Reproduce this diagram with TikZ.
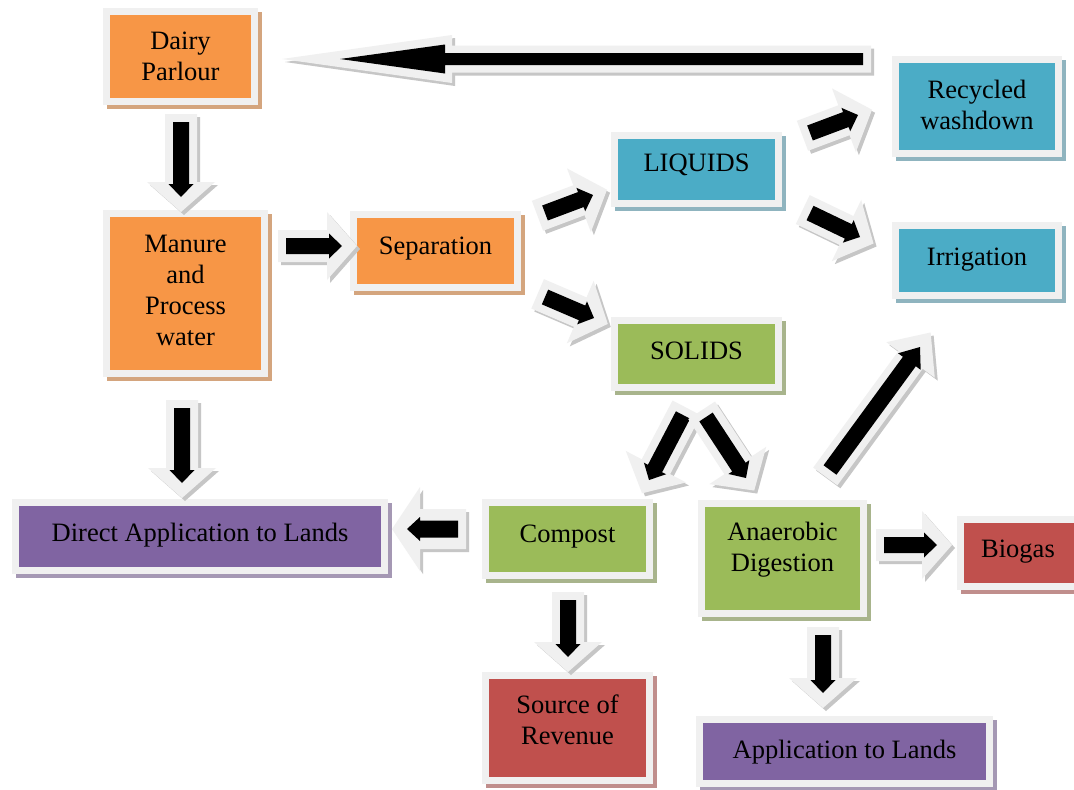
\documentclass[tikz,border=0pt]{standalone}
\usepackage{fontspec}
\setmainfont{Liberation Serif}
\usetikzlibrary{calc}

\definecolor{orangeF}{HTML}{F79646}
\definecolor{blueF}{HTML}{4BACC6}
\definecolor{greenF}{HTML}{9BBB59}
\definecolor{purpleF}{HTML}{8064A2}
\definecolor{redF}{HTML}{C0504D}
\definecolor{orangeS}{HTML}{D4A57E}
\definecolor{blueS}{HTML}{8FB4BF}
\definecolor{greenS}{HTML}{A8B48C}
\definecolor{purpleS}{HTML}{A598B4}
\definecolor{redS}{HTML}{C08E8C}
\definecolor{rim}{HTML}{F0F0F0}
\definecolor{arrowshade}{HTML}{C6C6C6}

\tikzset{
  panel/.style 2 args={draw=rim, line width=7pt, fill=#1, inner sep=0pt,
    preaction={draw=#2, fill=#2, line width=7pt,
      transform canvas={shift={(4pt,-4pt)}}}},
  label text/.style={font=\fontsize{26.5}{31}\selectfont, inner sep=0pt, align=center, text=black},
}

% one block-arrow outline: tail, tip, shaft half width, head half width, head length, fill
\newcommand\arrowpoly[6]{%
  \path ($(#2)!#5!(#1)$) coordinate (aC);
  \fill[#6] ($(#1)!#3!90:(#2)$) -- ($(aC)!#3!90:(#2)$) -- ($(aC)!#4!90:(#2)$)
    -- (#2) -- ($(aC)!#4!-90:(#2)$) -- ($(aC)!#3!-90:(#2)$)
    -- ($(#1)!#3!-90:(#2)$) -- cycle;
}
% black arrow on a light rim with a grey drop shadow
% #1 tail, #2 tip, #3-#5 black shaft/head/length, #6-#8 rim shaft/head/length, #9 rim overshoot at the tip
\newcommand\blockarrow[9]{%
  \path ($(#1)!-8pt!(#2)$) coordinate (oT) ($(#2)!-#9!(#1)$) coordinate (oH);
  \path ($(oT)+(3,3)$) coordinate (sT) ($(oH)+(3,3)$) coordinate (sH);
  \arrowpoly{sT}{sH}{#6}{#7}{#8}{arrowshade}
  \arrowpoly{oT}{oH}{#6}{#7}{#8}{rim}
  \arrowpoly{#1}{#2}{#3}{#4}{#5}{black}
}
\newcommand\stdarrow[2]{\blockarrow{#1}{#2}{8pt}{12.5pt}{13pt}{16pt}{34pt}{30pt}{15pt}}

\begin{document}
\begin{tikzpicture}[x=1pt, y=-1pt]
  \clip (0,0) rectangle (1074,790);
  \fill[white] (0,0) rectangle (1074,790);

  % ---- boxes ----
  \node[panel={orangeF}{orangeS}, minimum width=148pt, minimum height=90pt] (dairy) at (180.5,56.5) {};
  \node[panel={orangeF}{orangeS}, minimum width=158pt, minimum height=160pt] (manure) at (185.5,293.5) {};
  \node[panel={orangeF}{orangeS}, minimum width=164pt, minimum height=73pt] (sep) at (435.5,251) {};
  \node[panel={blueF}{blueS}, minimum width=164pt, minimum height=68pt] (liq) at (696.5,169.5) {};
  \node[panel={blueF}{blueS}, minimum width=163pt, minimum height=94pt] (recyc) at (977,106.5) {};
  \node[panel={blueF}{blueS}, minimum width=163pt, minimum height=70pt] (irrig) at (977,260.5) {};
  \node[panel={greenF}{greenS}, minimum width=164pt, minimum height=67pt] (solids) at (696.5,354) {};
  \node[panel={purpleF}{purpleS}, minimum width=369pt, minimum height=68pt] (direct) at (200,536.5) {};
  \node[panel={greenF}{greenS}, minimum width=164pt, minimum height=73pt] (compost) at (567.5,539) {};
  \node[panel={greenF}{greenS}, minimum width=162pt, minimum height=110pt] (anaer) at (782.5,558.5) {};
  \node[panel={redF}{redS}, minimum width=160pt, minimum height=67pt] (biogas) at (1040,553) {};
  \node[panel={redF}{redS}, minimum width=164pt, minimum height=105pt] (source) at (567.5,728) {};
  \node[panel={purpleF}{purpleS}, minimum width=290pt, minimum height=64pt] (app) at (844.5,751.5) {};

  % ---- texts ----
  \node[label text] (dairy-t) at (180.5,56.5) {Dairy\\Parlour};
  \node[label text] (manure-t) at (185.5,290.5) {Manure\\and\\Process\\water};
  \node[label text, anchor=base] (sep-t) at (435.5,254) {Separation};
  \node[label text, anchor=base] (liq-t) at (696.5,171) {LIQUIDS};
  \node[label text] (recyc-t) at (977,104.5) {Recycled\\washdown};
  \node[label text, anchor=base] (irrig-t) at (977,265) {Irrigation};
  \node[label text, anchor=base] (solids-t) at (696.5,359) {SOLIDS};
  \node[label text, anchor=base] (direct-t) at (200,541) {Direct Application to Lands};
  \node[label text, anchor=base] (compost-t) at (567.5,542) {Compost};
  \node[label text] (anaer-t) at (782.5,550) {Anaerobic\\Digestion};
  \node[label text, anchor=base] (biogas-t) at (1018,557) {Biogas};
  \node[label text] (source-t) at (567.5,720) {Source of\\Revenue};
  \node[label text, anchor=base] (app-t) at (844.5,758) {Application to Lands};

  % ---- arrow end points ----
  \coordinate (ret-a) at (863,59);   \coordinate (ret-b) at (340,59);
  \coordinate (dm-a) at (181,122);   \coordinate (dm-b) at (181,197);
  \coordinate (ms-a) at (286,246);   \coordinate (ms-b) at (342,246);
  \coordinate (sl-a) at (545,213);   \coordinate (sl-b) at (593,195);
  \coordinate (ss-a) at (545,297);   \coordinate (ss-b) at (594,318);
  \coordinate (lr-a) at (810,133);   \coordinate (lr-b) at (858,115);
  \coordinate (li-a) at (810,213);   \coordinate (li-b) at (860,237);
  \coordinate (sc-a) at (683,415);   \coordinate (sc-b) at (649,480);
  \coordinate (sa-a) at (706,417);   \coordinate (sa-b) at (746,478);
  \coordinate (ai-a) at (830,470);   \coordinate (ai-b) at (920,347);
  \coordinate (md-a) at (182,408);   \coordinate (md-b) at (182,483);
  \coordinate (cd-a) at (458,529);   \coordinate (cd-b) at (407,529);
  \coordinate (cs-a) at (568,600);   \coordinate (cs-b) at (568,657);
  \coordinate (ab-a) at (884,545);   \coordinate (ab-b) at (937,545);
  \coordinate (ap-a) at (823,635);   \coordinate (ap-b) at (823,693);

  % ---- arrows ----
  \blockarrow{ret-a}{ret-b}{6pt}{14.5pt}{105pt}{13.5pt}{24pt}{170pt}{58pt}
  \stdarrow{dm-a}{dm-b}
  \stdarrow{ms-a}{ms-b}
  \stdarrow{sl-a}{sl-b}
  \stdarrow{ss-a}{ss-b}
  \stdarrow{lr-a}{lr-b}
  \stdarrow{li-a}{li-b}
  \stdarrow{sc-a}{sc-b}
  \stdarrow{sa-a}{sa-b}
  \blockarrow{ai-a}{ai-b}{8pt}{14pt}{18pt}{15pt}{30pt}{34pt}{18pt}
  \stdarrow{md-a}{md-b}
  \blockarrow{cd-a}{cd-b}{8.5pt}{12pt}{13pt}{20pt}{42pt}{28pt}{15pt}
  \stdarrow{cs-a}{cs-b}
  \stdarrow{ab-a}{ab-b}
  \stdarrow{ap-a}{ap-b}
\end{tikzpicture}
\end{document}
